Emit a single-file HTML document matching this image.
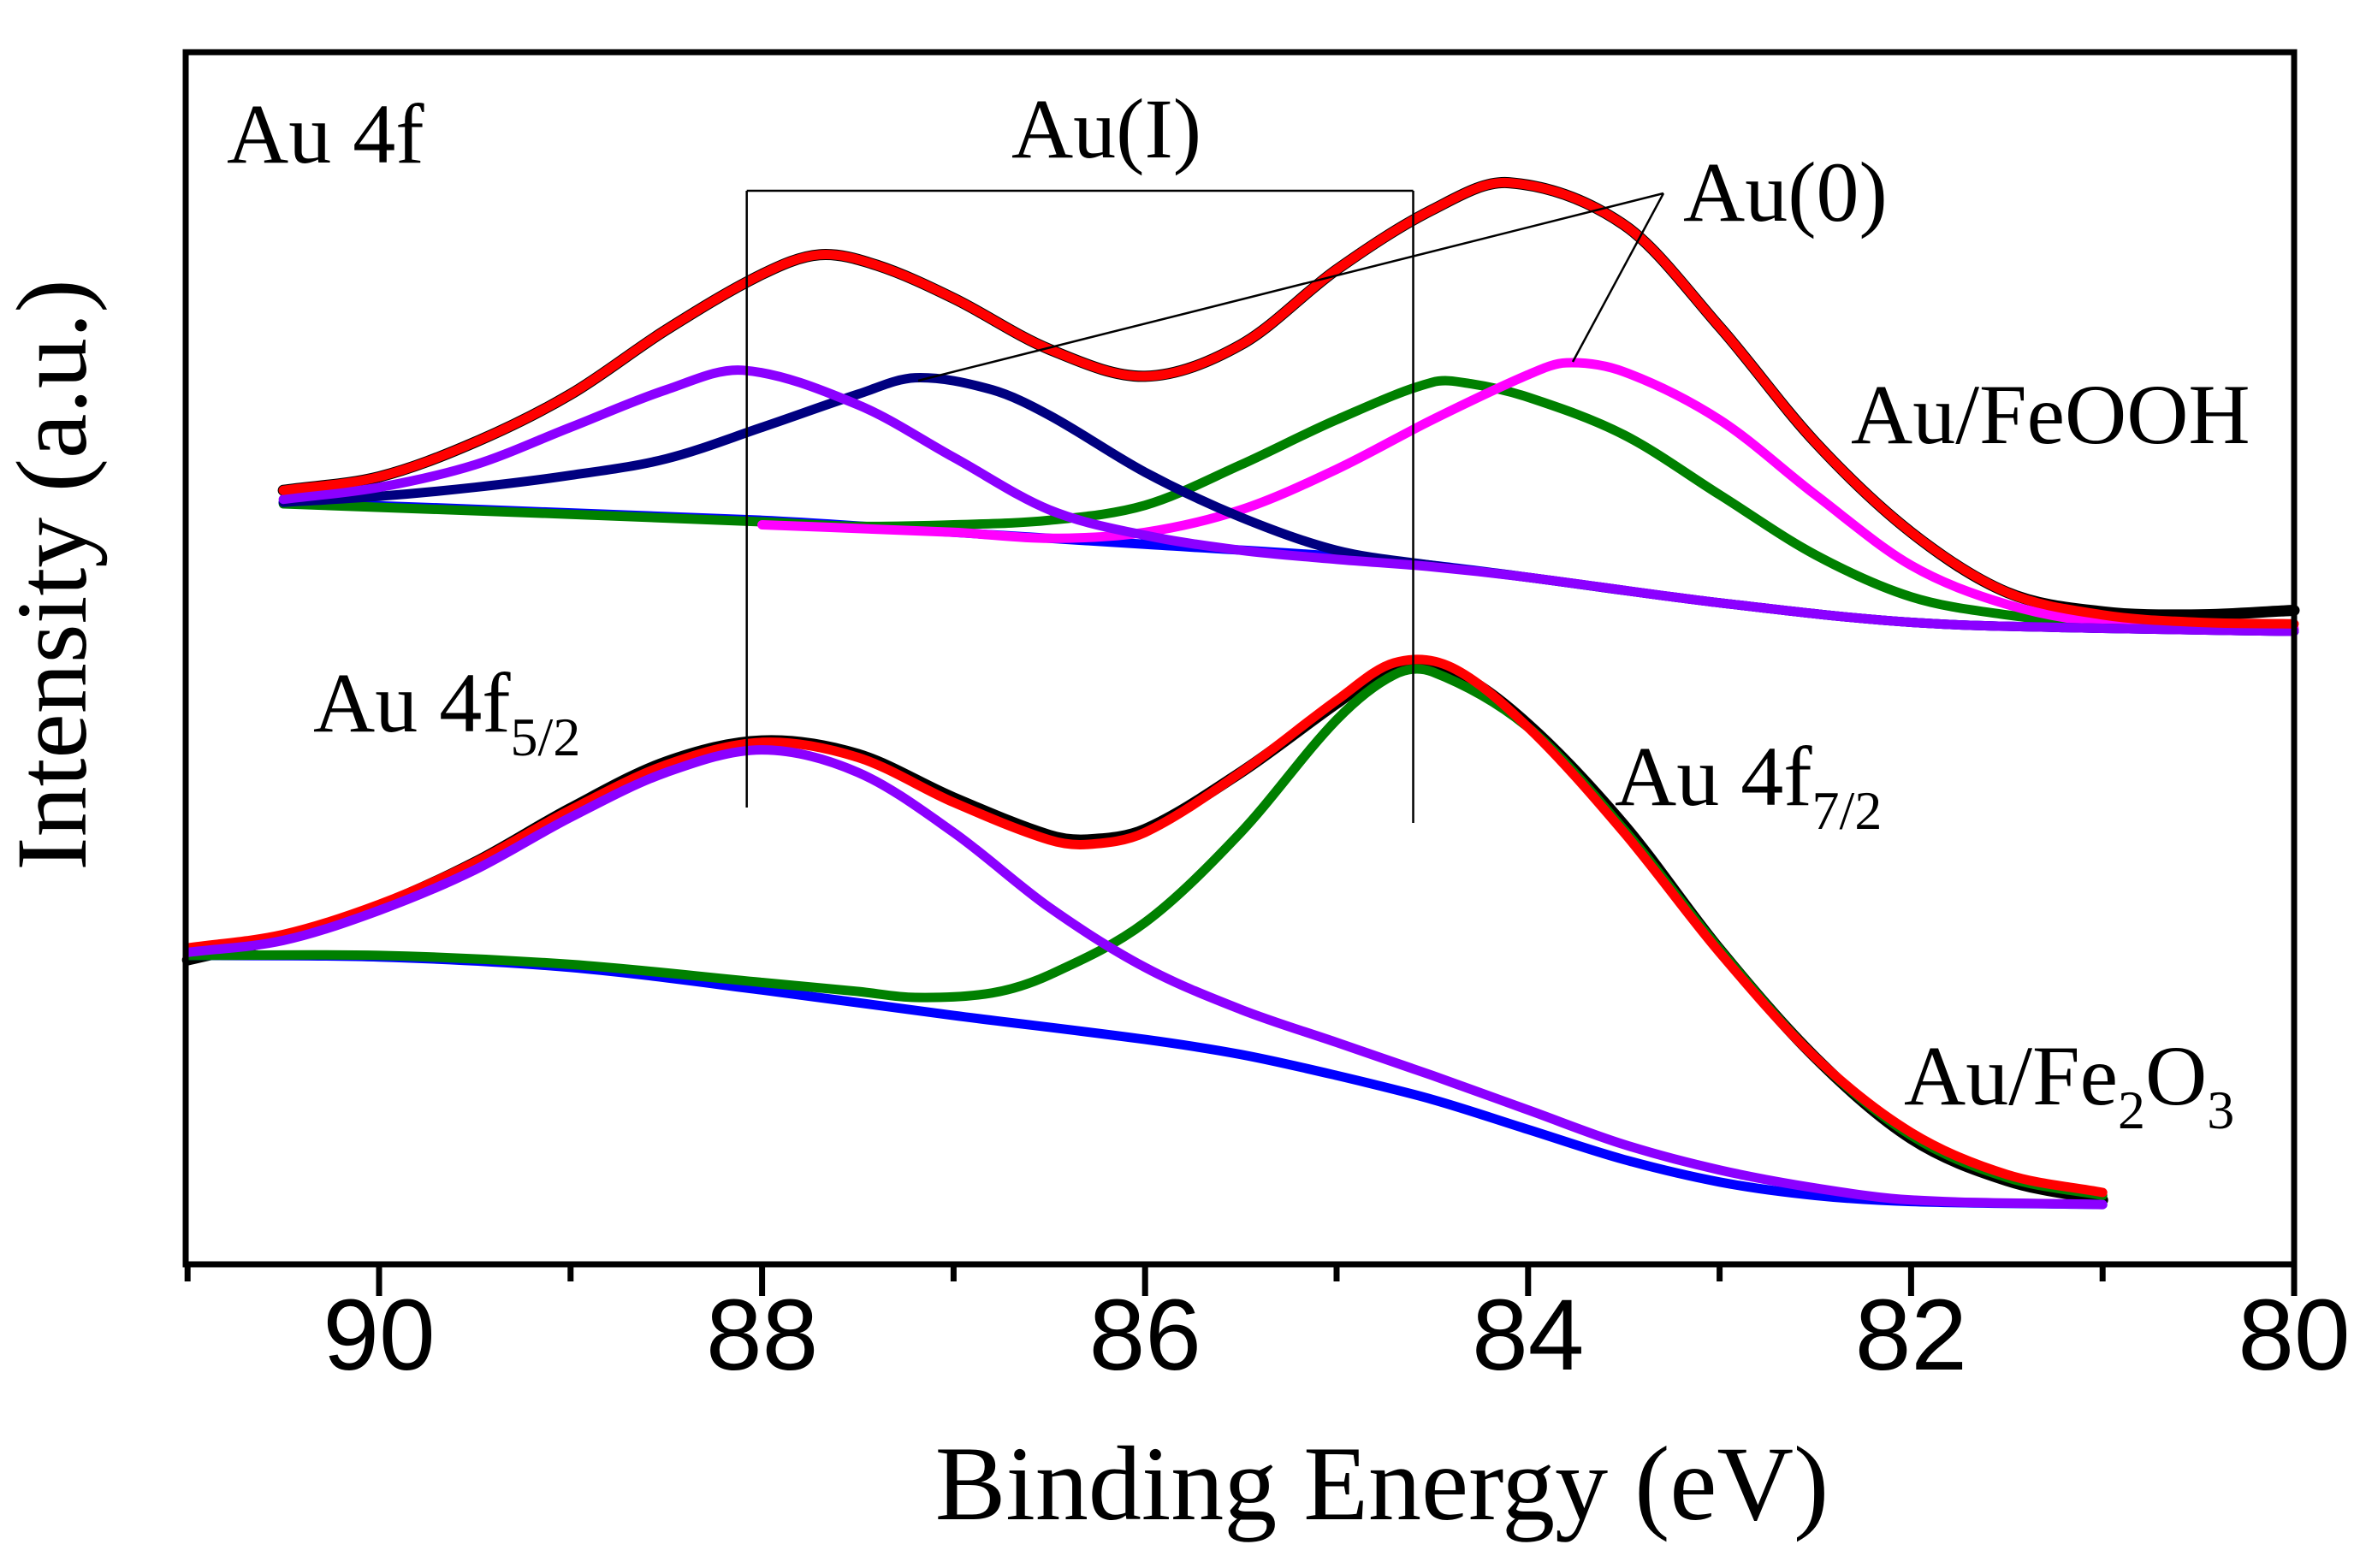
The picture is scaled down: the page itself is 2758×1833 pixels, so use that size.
<!DOCTYPE html>
<html><head><meta charset="utf-8"><style>
html,body{margin:0;padding:0;background:#fff;}
svg{display:block;}
text{font-family:"Liberation Serif",serif;fill:#000;}
.tick{font-family:"Liberation Sans",sans-serif;font-size:118px;}
.lbl{font-size:100px;}
</style></head><body>
<svg id="chart" width="2758" height="1833" viewBox="0 0 2758 1833" xmlns="http://www.w3.org/2000/svg">
<g id="plot"></g>
<rect x="217" y="61" width="2464" height="1417" fill="none" stroke="#000" stroke-width="7"/>
<g id="ticks"></g>
<text class="lbl" x="265" y="190">Au 4f</text>
<text class="lbl" x="1293" y="184" text-anchor="middle">Au(I)</text>
<text class="lbl" x="1967" y="258">Au(0)</text>
<text class="lbl" x="2163" y="518">Au/FeOOH</text>
<text class="lbl" x="366" y="855">Au 4f<tspan font-size="64" dy="28">5/2</tspan></text>
<text class="lbl" x="1887" y="941">Au 4f<tspan font-size="64" dy="28">7/2</tspan></text>
<text class="lbl" x="2225" y="1291">Au/Fe<tspan font-size="64" dy="28">2</tspan><tspan dy="-28">O</tspan><tspan font-size="64" dy="28">3</tspan></text>
<text font-size="118" transform="translate(100,672) rotate(-90)" text-anchor="middle">Intensity (a.u.)</text>
<text font-size="124" x="1615" y="1776" text-anchor="middle">Binding Energy (eV)</text>
<g id="annot"></g>
</svg>
<script>
const xTicks=[90,88,86,84,82,80];
const xMinor=[91,89,87,85,83,81];
// intensity in arbitrary units
const feRedE=[90.5,90,89.5,89,88.5,88,87.7,87.4,87,86.5,86,85.5,85,84.5,84.1,83.5,83,82.5,82,81.5,81,80.5,80];
const feRedI=[678,687,710,742,785,822,835,828,806,772,754,775,825,865,883,855,787,710,650,610,595,590,589];
const feBlackI=[678,687,710,742,785,822,835,828,806,772,754,775,825,865,883,855,787,710,650,610,597,595,598];
const feBlueE=[90.5,88,87,86,85,84.5,84,83,82,81,80];
const feBlueI=[670,658,650,642,634,628,620,603,590,586,584];
const fePurpleE=[90.5,90,89.5,89,88.5,88.1,87.5,87,86.5,86,85.5,85,84.5,84,83,82,81,80];
const fePurpleI=[672,680,695,720,745,758,735,700,665,648,638,632,627,620,603,590,586,584];
const feNavyE=[90.5,90,89.5,89,88.5,88,87.5,87.2,86.8,86.5,86,85.5,85,84.5,84,83,82,81,80];
const feNavyI=[670,674,680,688,699,720,742,753,745,728,690,660,638,628,620,603,590,586,584];
const feGreenE=[90.5,89,88,87.5,87,86.5,86,85.5,85,84.5,84.3,84,83.5,83,82.5,82,81.5,81,80];
const feGreenI=[669,662,657,654,655,658,668,695,725,750,749,740,715,675,635,607,595,589,585];
const feMagE=[88,87,86.5,86,85.5,85,84.5,84,83.8,83.5,83,82.5,82,81.5,81,80];
const feMagI=[655,650,646,650,665,692,725,755,763,757,725,675,628,602,590,586];
const oxRedE=[91,90.5,90,89.5,89,88.5,88,87.5,87,86.5,86.3,86,85.5,85,84.7,84.4,84,83.5,83,82.5,82,81.5,81];
const oxRedI=[373,382,402,430,465,495,510,500,470,445,442,450,490,538,563,560,520,450,370,300,250,222,210];
const oxBlackI=[365,380,401,430,466,497,511,502,473,448,445,452,490,536,561,558,522,455,372,300,246,218,205];
const oxPurpleE=[91,90.5,90,89.5,89,88.5,88,87.5,87,86.5,86,85.5,85,84.5,84,83.5,83,82.5,82,81];
const oxPurpleI=[370,378,398,425,460,490,505,490,450,400,360,332,310,288,265,242,225,213,205,202];
const oxGreenE=[91,90,89,88,87.5,87.2,86.8,86.5,86,85.5,85,84.7,84.5,84,83.5,83,82.5,82,81.5,81];
const oxGreenI=[368,368,362,350,344,340,343,355,390,450,525,555,557,520,452,372,300,248,220,208];
const oxBlueE=[91,90,89,88,87,86,85.5,85,84.5,84,83.5,83,82.5,82,81];
const oxBlueI=[368,367,360,345,328,312,302,288,272,252,232,217,208,204,202];

function xScale(e){return 443+(90-e)*223.8;}
function yScale(i){return 61+((1000-i)-30)*1.754;}
const NS='http://www.w3.org/2000/svg';
function pathFrom(E,I){
  const p=E.map((e,k)=>[xScale(e),yScale(I[k])]);
  const n=p.length;
  const m=p.map((q,k)=>{
    const a=p[Math.max(k-1,0)],b=p[Math.min(k+1,n-1)];
    return (b[1]-a[1])/(b[0]-a[0]);
  });
  let d='M'+p[0][0].toFixed(1)+','+p[0][1].toFixed(1);
  for(let k=0;k<n-1;k++){
    const h=(p[k+1][0]-p[k][0])/3;
    d+='C'+(p[k][0]+h).toFixed(1)+','+(p[k][1]+m[k]*h).toFixed(1)+' '+
      (p[k+1][0]-h).toFixed(1)+','+(p[k+1][1]-m[k+1]*h).toFixed(1)+' '+
      p[k+1][0].toFixed(1)+','+p[k+1][1].toFixed(1);
  }
  return d;
}
const plot=document.getElementById('plot');
function addLine(E,I,color,name,w){
  const el=document.createElementNS(NS,'path');
  el.setAttribute('d',pathFrom(E,I));
  el.setAttribute('fill','none');
  el.setAttribute('stroke',color);
  el.setAttribute('stroke-width',w||11);
  el.setAttribute('stroke-linecap','round');
  el.setAttribute('stroke-linejoin','round');
  
  
  plot.appendChild(el);
}
addLine(feRedE,feBlackI,'#000','feooh-raw-data',13);
addLine(feBlueE,feBlueI,'#0000ff','feooh-background');
addLine(feGreenE,feGreenI,'#008000','feooh-au-i-4f72');
addLine(feMagE,feMagI,'#ff00ff','feooh-au-0-4f72');
addLine(feNavyE,feNavyI,'#000080','feooh-au-0-4f52');
addLine(fePurpleE,fePurpleI,'#8b00ff','feooh-au-i-4f52');
addLine(feRedE,feRedI,'#ff0000','feooh-envelope');
addLine(oxRedE,oxBlackI,'#000','fe2o3-raw-data',13);
addLine(oxBlueE,oxBlueI,'#0000ff','fe2o3-background');
addLine(oxGreenE,oxGreenI,'#008000','fe2o3-4f72-peak');
addLine(oxRedE,oxRedI,'#ff0000','fe2o3-envelope');
addLine(oxPurpleE,oxPurpleI,'#8b00ff','fe2o3-4f52-peak');

const ticks=document.getElementById('ticks');
xTicks.forEach(v=>{
  const x=xScale(v);
  const l=document.createElementNS(NS,'line');
  l.setAttribute('x1',x);l.setAttribute('x2',x);l.setAttribute('y1',1478);l.setAttribute('y2',1515);
  l.setAttribute('stroke','#000');l.setAttribute('stroke-width',7);
  
  
  ticks.appendChild(l);
  const t=document.createElementNS(NS,'text');
  t.setAttribute('x',x);t.setAttribute('y',1601);t.setAttribute('text-anchor','middle');
  t.setAttribute('class','tick');t.textContent=v;
  
  
  ticks.appendChild(t);
});
xMinor.forEach(v=>{
  const x=xScale(v);
  const l=document.createElementNS(NS,'line');
  l.setAttribute('x1',x);l.setAttribute('x2',x);l.setAttribute('y1',1478);l.setAttribute('y2',1498);
  l.setAttribute('stroke','#000');l.setAttribute('stroke-width',7);
  
  
  ticks.appendChild(l);
});
const annot=document.getElementById('annot');
const bx1=xScale(88.08),bx2=xScale(84.6),by=223;
[[bx1,by,bx1,944],[bx2,by,bx2,962],[bx1,by,bx2,by],[1073,445,1944,226],[1838,423,1944,226]].forEach(s=>{
  const l=document.createElementNS(NS,'line');
  l.setAttribute('x1',s[0]);l.setAttribute('y1',s[1]);l.setAttribute('x2',s[2]);l.setAttribute('y2',s[3]);
  l.setAttribute('stroke','#000');l.setAttribute('stroke-width',2.5);
  
  
  annot.appendChild(l);
});
</script>
</body></html>
